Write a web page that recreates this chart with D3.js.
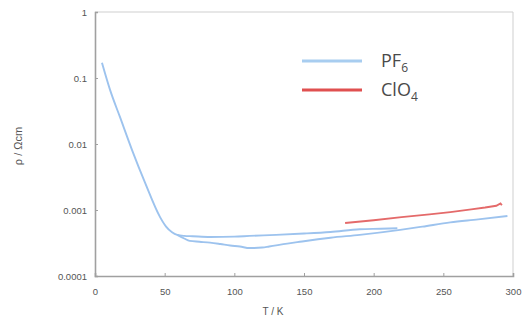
<!DOCTYPE html>
<html>
<head>
<meta charset="utf-8">
<script src="https://cdn.jsdelivr.net/npm/d3@7"></script>
<style>
  html, body { margin: 0; padding: 0; background: #fff; }
  svg { display: block; }
</style>
</head>
<body>
<svg id="chart" width="526" height="320"></svg>
<script>
// Resistivity vs temperature, PF6 salt (cooling + warming branches) and ClO4 salt
const xTicks = [0, 50, 100, 150, 200, 250, 300];
const yTicks = [1, 0.1, 0.01, 0.001, 0.0001];
const yTickLabels = ["1", "0.1", "0.01", "0.001", "0.0001"];

// PF6: descent from low T then the upper branch to ~217 K
const pf6UpperT = [5, 10.8, 17.9, 26.6, 35.9, 46.7, 51, 55.3, 59, 64, 70, 82.6, 100, 111, 130, 150, 169, 190, 205, 217];
const pf6UpperR = [0.17, 0.066, 0.0257, 0.0081, 0.0026, 0.00078, 0.00056, 0.00046, 0.00042, 0.000405, 0.0004, 0.00039, 0.000395, 0.000405, 0.00042, 0.00044, 0.000465, 0.00051, 0.00052, 0.00053];
// PF6: lower branch from ~59 K to room temperature
const pf6LowerT = [59, 64, 68, 75, 82.6, 90, 97, 104, 111, 120, 125, 138, 147, 160, 169, 190, 219, 235, 255, 275, 296];
const pf6LowerR = [0.00042, 0.00037, 0.00034, 0.00033, 0.00032, 0.000305, 0.00029, 0.00028, 0.000265, 0.00027, 0.00028, 0.00031, 0.00033, 0.00036, 0.00038, 0.00042, 0.0005, 0.00056, 0.00065, 0.00072, 0.00081];
// ClO4
const clo4T = [179.5, 200, 220, 240, 255, 270, 280, 288, 291, 292];
const clo4R = [0.000635, 0.0007, 0.00078, 0.00086, 0.00093, 0.00102, 0.00109, 0.00116, 0.00126, 0.00118];

const svg = d3.select("#chart");
const plotL = 95, plotR = 513, plotT = 12, plotB = 276;

const x = d3.scaleLinear().domain([0, 300]).range([plotL, plotR]);
const y = d3.scaleLog().domain([0.0001, 1]).range([plotB, plotT]);

const axisColor = "#a0a0a0";
const textColor = "#555";
const fontTick = "Liberation Sans, Arial, sans-serif";

// frame (top and right)
svg.append("path")
  .attr("d", `M${plotL},${plotT}H${plotR}V${plotB}`)
  .attr("fill", "none").attr("stroke", "#cfcfcf").attr("stroke-width", 1);

// x axis
const gx = svg.append("g").attr("transform", `translate(0,${plotB})`)
  .call(d3.axisBottom(x).tickValues(xTicks).tickSize(-3).tickPadding(12));
// y axis
const gy = svg.append("g").attr("transform", `translate(${plotL},0)`)
  .call(d3.axisLeft(y).tickValues(yTicks).tickFormat((d, i) => yTickLabels[i]).tickSize(-3).tickPadding(8));

[gx, gy].forEach(g => {
  g.select(".domain").attr("stroke", axisColor).attr("stroke-width", 1.6);
  g.selectAll(".tick line").attr("stroke", axisColor).attr("stroke-width", 1);
  g.selectAll(".tick text").attr("fill", textColor).attr("font-size", 9.5).attr("font-family", fontTick);
});

// axis titles
svg.append("text").attr("x", 273).attr("y", 315).attr("text-anchor", "middle")
  .attr("fill", textColor).attr("font-size", 10).attr("font-family", fontTick).text("T / K");
svg.append("text").attr("transform", "translate(22,146) rotate(-90)").attr("text-anchor", "middle")
  .attr("fill", textColor).attr("font-size", 11).attr("font-family", fontTick).text("ρ / Ωcm");

const line = d3.line().x(d => x(d[0])).y(d => y(d[1])).curve(d3.curveMonotoneX);
const blue = "#9dc3ee", red = "#e46a6a";

svg.append("path").datum(pf6UpperT.map((t, i) => [t, pf6UpperR[i]]))
  .attr("d", line).attr("fill", "none").attr("stroke", blue).attr("stroke-width", 1.9);
svg.append("path").datum(pf6LowerT.map((t, i) => [t, pf6LowerR[i]]))
  .attr("d", line).attr("fill", "none").attr("stroke", blue).attr("stroke-width", 1.9);
svg.append("path").datum(clo4T.map((t, i) => [t, clo4R[i]]))
  .attr("d", d3.line().x(d => x(d[0])).y(d => y(d[1])).curve(d3.curveLinear))
  .attr("fill", "none").attr("stroke", red).attr("stroke-width", 1.9);

// legend
const legend = [
  { name: "PF", sub: "6", color: "#a8cdf0", y: 61 },
  { name: "ClO", sub: "4", color: "#e05050", y: 90 }
];
legend.forEach(l => {
  svg.append("line").attr("x1", 302).attr("x2", 362).attr("y1", l.y).attr("y2", l.y)
    .attr("stroke", l.color).attr("stroke-width", 3);
  const t = svg.append("text").attr("x", 381).attr("y", l.y + 6)
    .attr("fill", "#4a4a4a").attr("font-size", 18).attr("font-family", "Open Sans, sans-serif");
  t.append("tspan").text(l.name);
  t.append("tspan").attr("font-size", 12).attr("dy", 5).text(l.sub);
});
</script>
</body>
</html>
